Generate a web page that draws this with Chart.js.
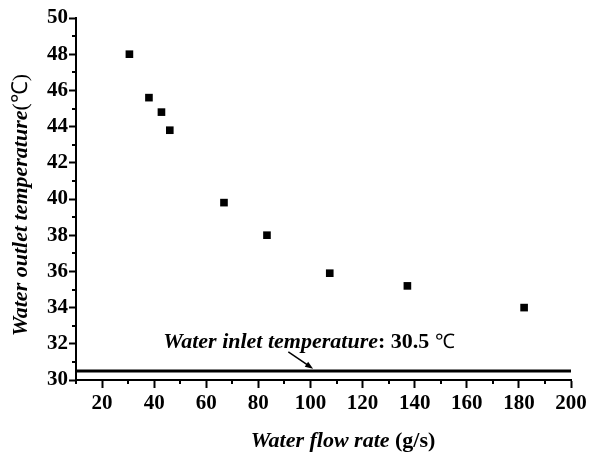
<!DOCTYPE html>
<html>
<head>
<meta charset="utf-8">
<script src="https://cdn.jsdelivr.net/npm/chart.js@4"></script>
<style>
  html, body { margin: 0; padding: 0; background: #fff; }
  #wrap { width: 596px; height: 452px; }
</style>
</head>
<body>
<div id="wrap"><canvas id="chart" width="596" height="452"></canvas></div>
<script>
const flowRate = [30.5, 38, 42.8, 46, 66.8, 83.3, 107.4, 137.2, 182];
const outletTemp = [48.0, 45.6, 44.8, 43.8, 39.8, 38.0, 35.9, 35.2, 34.0];
const inletTemp = 30.5;
const xLimits = [10, 200];
const yLimits = [30, 50];
const xMinorTicks = [10, 30, 50, 70, 90, 110, 130, 150, 170, 190];
const yMinorTicks = [31, 33, 35, 37, 39, 41, 43, 45, 47, 49];

const SERIF = '"Liberation Serif", "Times New Roman", serif';

// draw a run of differently styled text pieces starting at x
function drawRuns(ctx, runs, x, y) {
    runs.forEach(r => {
        ctx.font = r.font;
        ctx.fillText(r.text, x, y);
        x += ctx.measureText(r.text).width;
    });
}
function runsWidth(ctx, runs) {
    return runs.reduce((w, r) => { ctx.font = r.font; return w + ctx.measureText(r.text).width; }, 0);
}

const extras = {
    id: 'extras',
    afterDraw(chart) {
        const ctx = chart.ctx;
        const xs = chart.scales.x, ys = chart.scales.y;
        const area = chart.chartArea;
        ctx.save();
        ctx.strokeStyle = '#000';
        ctx.fillStyle = '#000';
        ctx.lineWidth = 2;

        // minor ticks
        ctx.beginPath();
        xMinorTicks.forEach(v => {
            const px = Math.round(xs.getPixelForValue(v));
            ctx.moveTo(px, area.bottom);
            ctx.lineTo(px, area.bottom + 4);
        });
        yMinorTicks.forEach(v => {
            const py = Math.round(ys.getPixelForValue(v));
            ctx.moveTo(area.left, py);
            ctx.lineTo(area.left - 4, py);
        });
        ctx.stroke();

        ctx.textBaseline = 'alphabetic';
        ctx.textAlign = 'left';

        // x title
        const xRuns = [
            { text: 'Water flow rate ', font: 'italic bold 22px ' + SERIF },
            { text: '(g/s)', font: 'bold 22px ' + SERIF }
        ];
        drawRuns(ctx, xRuns, 343 - runsWidth(ctx, xRuns) / 2, 447);

        // y title
        const yRuns = [
            { text: 'Water outlet temperature', font: 'italic bold 22px ' + SERIF },
            { text: '(℃)', font: '22px ' + SERIF }
        ];
        ctx.save();
        ctx.translate(27, 205);
        ctx.rotate(-Math.PI / 2);
        drawRuns(ctx, yRuns, -runsWidth(ctx, yRuns) / 2, 0);
        ctx.restore();

        // inlet temperature note
        const noteRuns = [
            { text: 'Water inlet temperature', font: 'italic bold 22px ' + SERIF },
            { text: ': 30.5 ', font: 'bold 22px ' + SERIF },
            { text: '℃', font: '20px ' + SERIF }
        ];
        drawRuns(ctx, noteRuns, xs.getPixelForValue(43.5), ys.getPixelForValue(31.75));

        // arrow pointing at the inlet line
        const x0 = xs.getPixelForValue(91.5), y0 = ys.getPixelForValue(31.55);
        const x1 = xs.getPixelForValue(101), y1 = ys.getPixelForValue(30.62);
        const ang = Math.atan2(y1 - y0, x1 - x0);
        ctx.lineWidth = 1.5;
        ctx.beginPath();
        ctx.moveTo(x0, y0);
        ctx.lineTo(x1 - 5 * Math.cos(ang), y1 - 5 * Math.sin(ang));
        ctx.stroke();
        ctx.beginPath();
        ctx.moveTo(x1, y1);
        ctx.lineTo(x1 - 8 * Math.cos(ang) + 3 * Math.sin(ang), y1 - 8 * Math.sin(ang) - 3 * Math.cos(ang));
        ctx.lineTo(x1 - 8 * Math.cos(ang) - 3 * Math.sin(ang), y1 - 8 * Math.sin(ang) + 3 * Math.cos(ang));
        ctx.closePath();
        ctx.fill();
        ctx.restore();
    }
};

const tickFont = { family: SERIF, size: 21, weight: 'bold' };

new Chart(document.getElementById('chart'), {
    type: 'scatter',
    data: {
        datasets: [
            {
                data: flowRate.map((x, i) => ({ x, y: outletTemp[i] })),
                pointStyle: 'rect',
                pointRadius: 5.4,
                backgroundColor: '#000',
                borderWidth: 0
            },
            {
                type: 'line',
                data: xLimits.map(x => ({ x, y: inletTemp })),
                borderColor: '#000',
                borderWidth: 3,
                pointRadius: 0,
                fill: false
            }
        ]
    },
    options: {
        responsive: false,
        animation: false,
        events: [],
        layout: { padding: { top: 18, right: 25, left: 0, bottom: 0 } },
        plugins: { legend: { display: false }, tooltip: { enabled: false } },
        scales: {
            x: {
                type: 'linear',
                min: xLimits[0],
                max: xLimits[1],
                afterFit: s => { s.height = 72; },
                ticks: {
                    stepSize: 20,
                    includeBounds: false,
                    color: '#000',
                    font: tickFont,
                    padding: 3,
                    maxRotation: 0,
                    autoSkip: false
                },
                grid: { drawOnChartArea: false, tickLength: 8, tickColor: '#000', tickWidth: 2 },
                border: { display: true, color: '#000', width: 2 }
            },
            y: {
                min: yLimits[0],
                max: yLimits[1],
                afterFit: s => { s.width = 76; },
                ticks: { stepSize: 2, color: '#000', font: tickFont, padding: 1, autoSkip: false },
                grid: { drawOnChartArea: false, tickLength: 7, tickColor: '#000', tickWidth: 2 },
                border: { display: true, color: '#000', width: 2 }
            }
        }
    },
    plugins: [extras]
});
</script>
</body>
</html>
